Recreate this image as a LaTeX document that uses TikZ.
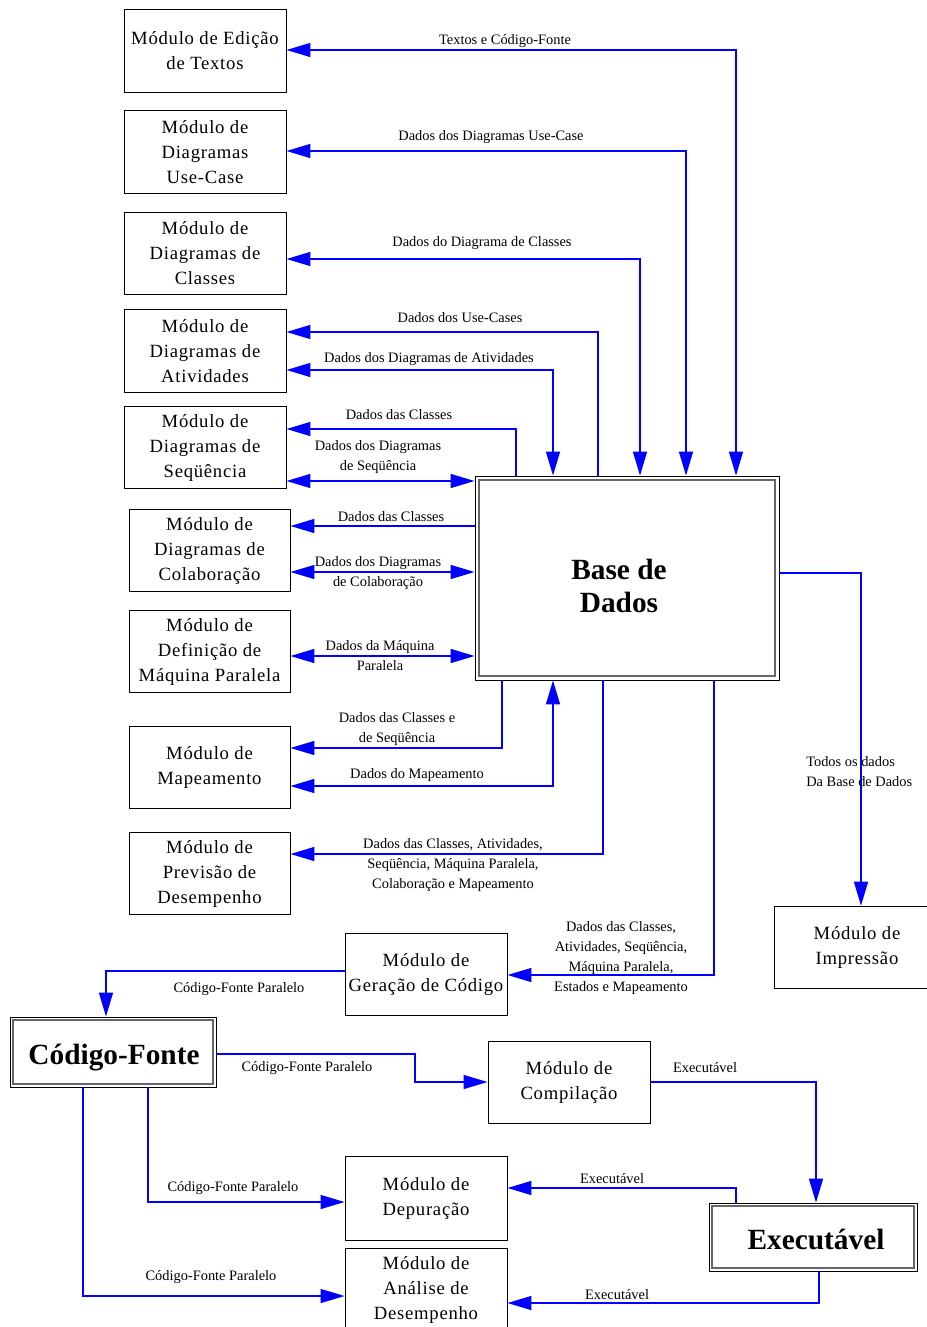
\documentclass[tikz,border=0pt]{standalone}
\usepackage{fontspec}
\setmainfont{Liberation Serif}
\newfontfamily\boxfont[LetterSpace=4]{Liberation Serif}
\usetikzlibrary{arrows.meta}

\begin{document}
\begin{tikzpicture}[x=0.75pt,y=-0.75pt,
  box/.style={draw=black, line width=0.7pt, inner sep=0pt, align=center,
    minimum width=121.5pt, minimum height=62pt,
    font=\boxfont\fontsize{14}{18.75}\selectfont},
  dbox/.style={draw=black, line width=0.7pt, inner sep=0pt},
  title/.style={inner sep=0pt, align=center, font=\fontsize{22}{25}\selectfont\bfseries},
  inner/.style={draw=black!60, line width=1.3pt},
  tip/.tip={Triangle[length=18pt,width=10.5pt]},
  flow/.style={draw=blue, line width=1.1pt, -tip},
  both/.style={draw=blue, line width=1.1pt, tip-tip},
  lbl/.style={font=\fontsize{10.8}{15}\selectfont, align=center, inner sep=0pt}]
\useasboundingbox (0,0) rectangle (926,1327);

% ---------- module boxes ----------
\node[box] (edit)  at (205,51)    {Módulo de Edição\\de Textos};
\node[box] (uc)    at (205,152)   {Módulo de\\Diagramas\\Use-Case};
\node[box] (cls)   at (205,253.5) {Módulo de\\Diagramas de\\Classes};
\node[box] (ativ)  at (205,351)   {Módulo de\\Diagramas de\\Atividades};
\node[box] (seq)   at (205,447.5) {Módulo de\\Diagramas de\\Seqüência};
\node[box, minimum width=120.75pt] (colab) at (209.5,550.5) {Módulo de\\Diagramas de\\Colaboração};
\node[box, minimum width=120.75pt] (maq)   at (209.5,651.5) {Módulo de\\Definição de\\Máquina Paralela};
\node[box, minimum width=120.75pt] (map)   at (209.5,767.5) {Módulo de\\Mapeamento};
\node[box, minimum width=120.75pt] (prev)  at (209.5,873.5) {Módulo de\\Previsão de\\Desempenho};
\node[box, minimum width=124.5pt]  (imp)   at (857,947.5)   {Módulo de\\Impressão};
\node[box] (ger)   at (426,974.5)  {Módulo de\\Geração de Código};
\node[box] (comp)  at (569,1082.5) {Módulo de\\Compilação};
\node[box, minimum height=63pt] (dep) at (426,1198) {Módulo de\\Depuração};
\node[box] (ana)   at (426,1289.5) {Módulo de\\Análise de\\Desempenho};

% ---------- double-framed boxes ----------
\node[dbox, minimum width=228pt, minimum height=153pt] (base) at (627,578) {};
\draw[inner] ([shift={(3.2pt,-3.5pt)}]base.north west) rectangle ([shift={(-3.2pt,3.2pt)}]base.south east);
\node[title] (basetxt) at (619,586) {Base de\\Dados};
\node[dbox, minimum width=154.5pt, minimum height=52.5pt] (cf) at (113,1052) {};
\draw[inner] ([shift={(2.6pt,-2.6pt)}]cf.north west) rectangle ([shift={(-2.6pt,2.6pt)}]cf.south east);
\node[title, anchor=base] (cftxt) at (114,1064) {Código-Fonte};
\node[dbox, minimum width=156pt, minimum height=51pt] (exec) at (813,1237) {};
\draw[inner] ([shift={(2.6pt,-2.6pt)}]exec.north west) rectangle ([shift={(-2.6pt,2.6pt)}]exec.south east);
\node[title, anchor=base] (exectxt) at (816,1249) {Executável};

% ---------- guide coordinates (columns and rows) ----------
\foreach \c in {83,106,148,415,502,516,553,598,603,640,686,714,736,816,819,861}
  \coordinate (c\c) at (\c,0);
\foreach \r in {50,151,259,332,370,429,481,526,572,573,656,748,786,854,971,975,1054,1082,1188,1202,1296,1303}
  \coordinate (r\r) at (0,\r);

% ---------- connectors around the database ----------
\draw[both] (edit.east |- r50)  -| (c736 |- base.north);
\draw[both] (uc.east |- r151)   -| (c686 |- base.north);
\draw[both] (cls.east |- r259)  -| (c640 |- base.north);
\draw[flow] (c598 |- base.north) |- (ativ.east |- r332);
\draw[both] (ativ.east |- r370) -| (c553 |- base.north);
\draw[flow] (c516 |- base.north) |- (seq.east |- r429);
\draw[both] (seq.east |- r481)  -- (base.west |- r481);
\draw[flow] (base.west |- r526) -- (colab.east |- r526);
\draw[both] (colab.east |- r572) -- (base.west |- r572);
\draw[both] (maq.east |- r656)  -- (base.west |- r656);
\draw[flow] (c502 |- base.south) |- (map.east |- r748);
\draw[both] (map.east |- r786)  -| (c553 |- base.south);
\draw[flow] (c603 |- base.south) |- (prev.east |- r854);
\draw[flow] (c714 |- base.south) |- (ger.east |- r975);
\draw[flow] (base.east |- r573) -| (c861 |- imp.north);

% ---------- code generation chain ----------
\draw[flow] (ger.west |- r971)  -| (c106 |- cf.north);
\draw[flow] (cf.east |- r1054)  -| (c415 |- r1082) -- (comp.west |- r1082);
\draw[flow] (comp.east |- r1082) -| (c816 |- exec.north);
\draw[flow] (c736 |- exec.north) |- (dep.east |- r1188);
\draw[flow] (c819 |- exec.south) |- (ana.east |- r1303);
\draw[flow] (c148 |- cf.south)  |- (dep.west |- r1202);
\draw[flow] (c83 |- cf.south)   |- (ana.west |- r1296);

% ---------- connector labels ----------
\node[lbl] (l1)  at (505,41)  {Textos e Código-Fonte};
\node[lbl] (l2)  at (491,137) {Dados dos Diagramas Use-Case};
\node[lbl] (l3)  at (482,243) {Dados do Diagrama de Classes};
\node[lbl] (l4)  at (460,318) {Dados dos Use-Cases};
\node[lbl] (l5)  at (429,359) {Dados dos Diagramas de Atividades};
\node[lbl] (l6)  at (399,415) {Dados das Classes};
\node[lbl] (l7)  at (378,457) {Dados dos Diagramas\\de Seqüência};
\node[lbl] (l8)  at (391,517) {Dados das Classes};
\node[lbl] (l9)  at (378,573) {Dados dos Diagramas\\de Colaboração};
\node[lbl] (l10) at (380,656) {Dados da Máquina\\Paralela};
\node[lbl] (l11) at (397,729.5) {Dados das Classes e\\de Seqüência};
\node[lbl] (l12) at (417,775) {Dados do Mapeamento};
\node[lbl] (l13) at (453,865) {Dados das Classes, Atividades,\\Seqüência, Máquina Paralela,\\Colaboração e Mapeamento};
\node[lbl] (l14) at (621,958.5) {Dados das Classes,\\Atividades, Seqüência,\\Máquina Paralela,\\Estados e Mapeamento};
\node[lbl, anchor=west, align=left] (l15) at (806,772) {Todos os dados\\Da Base de Dados};
\node[lbl] (l16) at (239,989)  {Código-Fonte Paralelo};
\node[lbl] (l17) at (307,1068) {Código-Fonte Paralelo};
\node[lbl] (l18) at (705,1068) {Executável};
\node[lbl] (l19) at (612,1179) {Executável};
\node[lbl] (l20) at (617,1295) {Executável};
\node[lbl] (l21) at (233,1188) {Código-Fonte Paralelo};
\node[lbl] (l22) at (211,1277) {Código-Fonte Paralelo};
\end{tikzpicture}
\end{document}
